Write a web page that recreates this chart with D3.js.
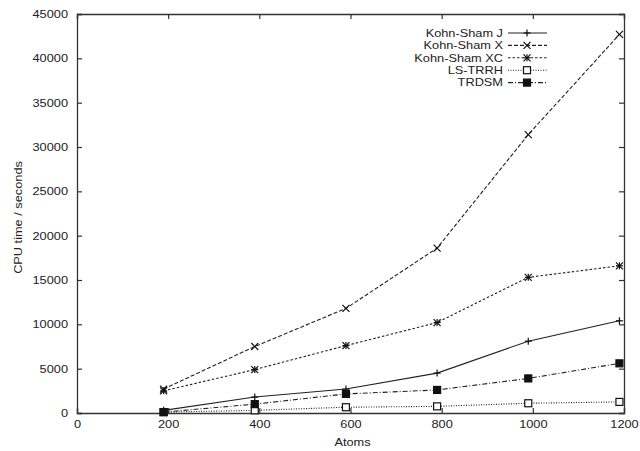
<!DOCTYPE html>
<html>
<head>
<meta charset="utf-8">
<script src="https://cdn.jsdelivr.net/npm/d3@7"></script>
<style>
  body { margin: 0; background: #fff; }
  text { font-family: "Liberation Sans", Arial, sans-serif; fill: #222; }
</style>
</head>
<body>
<div id="chart"></div>
<script>
// Data
var atoms = [190, 390, 590, 790, 990, 1190];
var seriesNames = ["Kohn-Sham J", "Kohn-Sham X", "Kohn-Sham XC", "LS-TRRH", "TRDSM"];
var ksJ  = [300, 1800, 2700, 4500, 8100, 10400];
var ksX  = [2700, 7500, 11800, 18600, 31400, 42700];
var ksXC = [2500, 4900, 7600, 10200, 15300, 16600];
var lsTRRH = [100, 300, 650, 750, 1100, 1250];
var trdsm = [100, 1000, 2150, 2600, 3900, 5600];
var xTicks = [0, 200, 400, 600, 800, 1000, 1200];
var yTicks = [0, 5000, 10000, 15000, 20000, 25000, 30000, 35000, 40000, 45000];

var svgWidth = 640, svgHeight = 451;
var margin = { top: 14, right: 16, bottom: 38, left: 77 };
var chartWidth = svgWidth - margin.left - margin.right;
var chartHeight = svgHeight - margin.top - margin.bottom;

var svg = d3.select("#chart").append("svg")
  .attr("width", svgWidth).attr("height", svgHeight);
var chartGroup = svg.append("g")
  .attr("transform", `translate(${margin.left}, ${margin.top})`);

var xScale = d3.scaleLinear().domain([0, 1200]).range([0, chartWidth]);
var yScale = d3.scaleLinear().domain([0, 45000]).range([chartHeight, 0]);

// series styles: dash pattern + marker type
var styles = [
  { values: ksJ,    dash: null,        marker: "plus" },
  { values: ksX,    dash: "4,2",       marker: "cross" },
  { values: ksXC,   dash: "2.5,2",     marker: "star" },
  { values: lsTRRH, dash: "1,1.5",     marker: "open" },
  { values: trdsm,  dash: "5,2,1,2",   marker: "filled" }
];

// axes with inward ticks, mirrored on all sides
var fmt = d3.format("d");
chartGroup.append("g")
  .attr("transform", `translate(0, ${chartHeight})`)
  .call(d3.axisBottom(xScale).tickValues(xTicks).tickSize(-5).tickPadding(7).tickFormat(fmt));
chartGroup.append("g")
  .call(d3.axisTop(xScale).tickValues(xTicks).tickSize(-5).tickFormat(""));
chartGroup.append("g")
  .call(d3.axisLeft(yScale).tickValues(yTicks).tickSize(-5).tickPadding(9).tickFormat(fmt));
chartGroup.append("g")
  .attr("transform", `translate(${chartWidth}, 0)`)
  .call(d3.axisRight(yScale).tickValues(yTicks).tickSize(-5).tickFormat(""));

chartGroup.selectAll(".domain").attr("stroke", "#333").attr("stroke-width", 1.3);
chartGroup.selectAll(".tick line").attr("stroke", "#333").attr("stroke-width", 1.2);
chartGroup.selectAll(".tick text")
  .style("font-family", "Liberation Sans, Arial, sans-serif")
  .style("font-size", "11px").attr("fill", "#333");

function drawMarker(g, type, x, y) {
  var s = 3.5;
  if (type === "plus" || type === "star") {
    g.append("line").attr("x1", x - s).attr("x2", x + s).attr("y1", y).attr("y2", y);
    g.append("line").attr("x1", x).attr("x2", x).attr("y1", y - s).attr("y2", y + s);
  }
  if (type === "cross" || type === "star") {
    g.append("line").attr("x1", x - s).attr("x2", x + s).attr("y1", y - s).attr("y2", y + s);
    g.append("line").attr("x1", x - s).attr("x2", x + s).attr("y1", y + s).attr("y2", y - s);
  }
  if (type === "open" || type === "filled") {
    g.append("rect").attr("x", x - 3.5).attr("y", y - 3.5).attr("width", 7).attr("height", 7)
      .attr("fill", type === "filled" ? "#111" : "#fff");
  }
}

var line = d3.line()
  .x((d, i) => xScale(atoms[i]))
  .y(d => yScale(d));

styles.forEach(function(st) {
  chartGroup.append("path")
    .datum(st.values)
    .attr("d", line)
    .attr("fill", "none")
    .attr("stroke", "#222")
    .attr("stroke-width", 1.1)
    .attr("stroke-dasharray", st.dash);
  var mg = chartGroup.append("g").attr("stroke", "#111").attr("stroke-width", 1.2);
  st.values.forEach(function(v, i) {
    drawMarker(mg, st.marker, xScale(atoms[i]), yScale(v));
  });
});

// legend
var legend = svg.append("g");
styles.forEach(function(st, i) {
  var y = 33 + i * 12.4;
  legend.append("text")
    .attr("x", 503).attr("y", y).attr("dy", "0.35em")
    .attr("text-anchor", "end")
    .style("font-size", "11px")
    .text(seriesNames[i]);
  legend.append("line")
    .attr("x1", 508).attr("x2", 547).attr("y1", y).attr("y2", y)
    .attr("stroke", "#222").attr("stroke-width", 1.1)
    .attr("stroke-dasharray", st.dash);
  var mg = legend.append("g").attr("stroke", "#111").attr("stroke-width", 1.2);
  drawMarker(mg, st.marker, 527, y);
});

// axis labels
svg.append("text")
  .attr("x", margin.left + chartWidth / 2 + 2).attr("y", 446)
  .attr("text-anchor", "middle")
  .style("font-size", "11px")
  .text("Atoms");
svg.append("text")
  .attr("transform", `translate(22, ${margin.top + chartHeight / 2 + 4}) rotate(-90)`)
  .attr("text-anchor", "middle")
  .style("font-size", "11px")
  .text("CPU time / seconds");

// the original figure's lettering is a bit wider than the font: stretch it
svg.selectAll("text").each(function() {
  var len = this.getComputedTextLength();
  if (len > 0) {
    d3.select(this)
      .attr("textLength", len * 1.16)
      .attr("lengthAdjust", "spacingAndGlyphs");
  }
});
</script>
</body>
</html>
